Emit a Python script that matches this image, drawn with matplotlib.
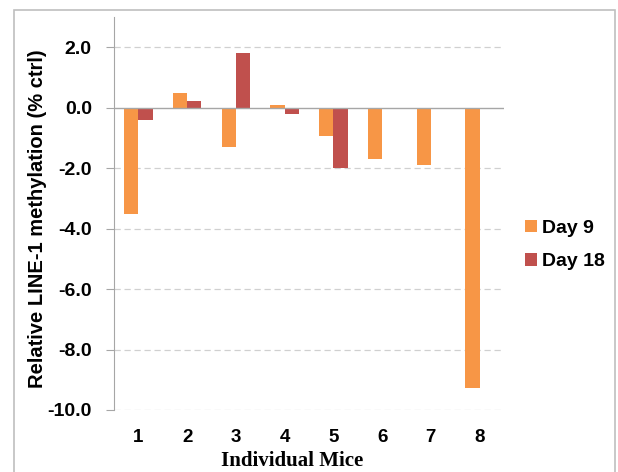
import numpy as np
import matplotlib
matplotlib.use("Agg")
import matplotlib.pyplot as plt
from matplotlib.patches import Rectangle

# data
mice = ["1", "2", "3", "4", "5", "6", "7", "8"]
day9 = [-3.53, 0.50, -1.30, 0.10, -0.95, -1.71, -1.91, -9.28]
day18 = [-0.40, 0.21, 1.80, -0.20, -2.00, np.nan, np.nan, np.nan]
yticks = [2.0, 0.0, -2.0, -4.0, -6.0, -8.0, -10.0]

orange = "#F79646"
red = "#C0504D"

plt.rcParams['font.family'] = ['Liberation Sans', 'DejaVu Sans']

fig = plt.figure(figsize=(6.18, 4.72), dpi=100)
# light gray frame around the chart area
fig.patches.append(Rectangle((14 / 618, -0.1), 601 / 618, 1.1 - 10 / 472,
                             transform=fig.transFigure, fill=False,
                             edgecolor="#BFBFBF", linewidth=1.2))

ax = fig.add_axes([114 / 618, 1 - 410 / 472, 390 / 618, (410 - 17) / 472])

x = np.arange(1, len(mice) + 1)
w = 0.29
ax.bar(x - w / 2, day9, width=w, color=orange, label="Day 9", zorder=3)
ax.bar(x + w / 2, day18, width=w, color=red, label="Day 18", zorder=3)

ax.set_xlim(0.5, 8.5)
ax.set_ylim(-10, 3)
ax.set_yticks(yticks)
ax.set_yticklabels([f"{v:.1f}" for v in yticks])
ax.set_xticks(x)
ax.set_xticklabels(mice)

for v in yticks:
    if v == 0:
        ax.axhline(0, color="#A6A6A6", linewidth=1.0, zorder=4)
    else:
        ax.axhline(v, color="#D0D0D0", linewidth=0.9, linestyle=(0, (5, 3)), zorder=1)

for s in ["top", "right", "bottom"]:
    ax.spines[s].set_visible(False)
ax.spines["left"].set_color("#A6A6A6")
ax.tick_params(axis="y", length=6, color="#A6A6A6", labelsize=14, pad=10)
ax.tick_params(axis="x", length=0, labelsize=13.5, pad=14)
for lab in ax.get_xticklabels() + ax.get_yticklabels():
    lab.set_fontweight("bold")

ax.set_ylabel("Relative LINE-1 methylation (% ctrl)", fontsize=14.5,
              fontweight="bold")
ax.yaxis.set_label_coords(-0.172, 0.486)
ax.set_xlabel("Individual Mice", fontsize=15, fontweight="bold",
              family="Liberation Serif")
ax.xaxis.set_label_coords(0.456, -0.105)

leg = ax.legend(loc="center left", bbox_to_anchor=(1.01, 0.42), frameon=False,
                prop={"size": 14, "weight": "bold"}, handlelength=0.6,
                handleheight=0.6, handletextpad=0.25, labelspacing=0.85)

fig.savefig("out.png", dpi=100)
